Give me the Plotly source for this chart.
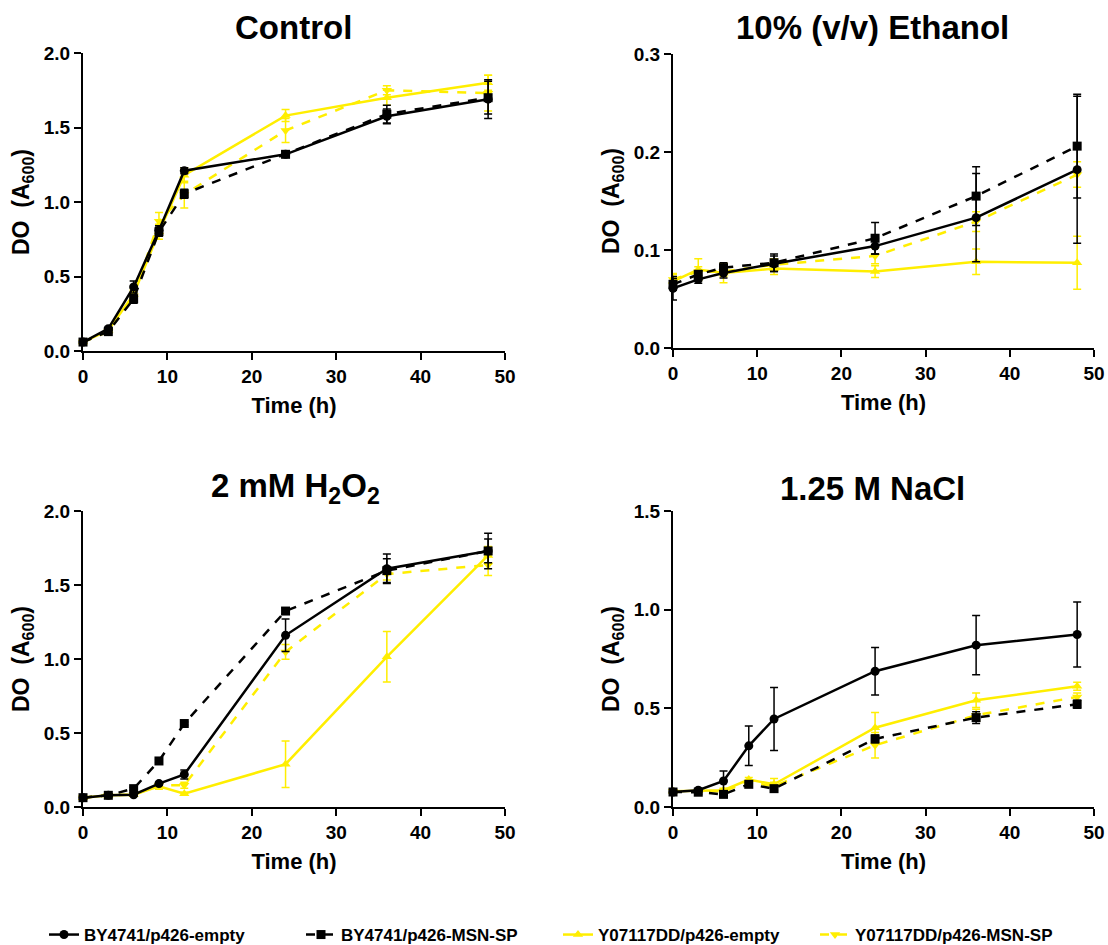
import plotly.graph_objects as go

time_h = [0, 3, 6, 9, 12, 24, 36, 48]
eth_time = [0, 3, 6, 12, 24, 36, 48]

series_names = ["BY4741/p426-empty", "BY4741/p426-MSN-SP",
                "Y07117DD/p426-empty", "Y07117DD/p426-MSN-SP"]

# Control
ctrl_by_empty = [0.06, 0.15, 0.43, 0.81, 1.21, 1.32, 1.575, 1.69]
ctrl_by_msn = [0.06, 0.13, 0.35, 0.80, 1.055, 1.32, 1.59, 1.70]
ctrl_y_empty = [0.06, 0.14, 0.38, 0.80, 1.18, 1.58, 1.70, 1.80]
ctrl_y_msn = [0.06, 0.13, 0.37, 0.87, 1.05, 1.48, 1.75, 1.73]
ctrl_by_empty_err = [0.01, 0.01, 0.04, 0.03, 0.02, 0.02, 0.05, 0.13]
ctrl_by_msn_err = [0.01, 0.01, 0.03, 0.03, 0.03, 0.02, 0.06, 0.11]
ctrl_y_empty_err = [0.01, 0.01, 0.03, 0.05, 0.05, 0.04, 0.05, 0.05]
ctrl_y_msn_err = [0.01, 0.01, 0.03, 0.06, 0.09, 0.08, 0.03, 0.12]

# 10% Ethanol
eth_by_empty = [0.061, 0.070, 0.0765, 0.086, 0.104, 0.133, 0.182]
eth_by_msn = [0.065, 0.075, 0.082, 0.087, 0.112, 0.155, 0.206]
eth_y_empty = [0.068, 0.080, 0.0765, 0.081, 0.078, 0.088, 0.087]
eth_y_msn = [0.070, 0.078, 0.078, 0.085, 0.094, 0.129, 0.177]
eth_by_empty_err = [0.012, 0.004, 0.005, 0.008, 0.008, 0.045, 0.075]
eth_by_msn_err = [0.006, 0.004, 0.005, 0.009, 0.016, 0.030, 0.053]
eth_y_empty_err = [0.008, 0.011, 0.010, 0.006, 0.006, 0.013, 0.027]
eth_y_msn_err = [0.005, 0.005, 0.005, 0.006, 0.008, 0.010, 0.013]

# 2 mM H2O2
h2o2_by_empty = [0.063, 0.079, 0.083, 0.158, 0.22, 1.16, 1.61, 1.73]
h2o2_by_msn = [0.063, 0.079, 0.124, 0.311, 0.564, 1.324, 1.597, 1.73]
h2o2_y_empty = [0.063, 0.079, 0.083, 0.14, 0.09, 0.289, 1.015, 1.70]
h2o2_y_msn = [0.063, 0.079, 0.083, 0.147, 0.147, 1.048, 1.574, 1.635]
h2o2_by_empty_err = [0.01, 0.01, 0.01, 0.01, 0.03, 0.11, 0.10, 0.08]
h2o2_by_msn_err = [0.01, 0.01, 0.01, 0.01, 0.01, 0.02, 0.08, 0.12]
h2o2_y_empty_err = [0.01, 0.01, 0.01, 0.02, 0.01, 0.157, 0.17, 0.06]
h2o2_y_msn_err = [0.01, 0.01, 0.01, 0.01, 0.02, 0.05, 0.04, 0.07]

# 1.25 M NaCl
nacl_by_empty = [0.076, 0.085, 0.132, 0.31, 0.446, 0.688, 0.82, 0.874]
nacl_by_msn = [0.076, 0.075, 0.064, 0.115, 0.093, 0.345, 0.453, 0.521]
nacl_y_empty = [0.080, 0.083, 0.085, 0.139, 0.115, 0.402, 0.541, 0.612]
nacl_y_msn = [0.080, 0.080, 0.080, 0.127, 0.105, 0.313, 0.465, 0.558]
nacl_by_empty_err = [0.01, 0.01, 0.05, 0.10, 0.16, 0.12, 0.15, 0.165]
nacl_by_msn_err = [0.01, 0.01, 0.01, 0.01, 0.01, 0.02, 0.03, 0.02]
nacl_y_empty_err = [0.01, 0.01, 0.01, 0.01, 0.03, 0.077, 0.037, 0.02]
nacl_y_msn_err = [0.01, 0.01, 0.01, 0.01, 0.02, 0.065, 0.03, 0.02]

panel_titles = ["Control", "10% (v/v) Ethanol",
                "2 mM H<sub>2</sub>O<sub>2</sub>", "1.25 M NaCl"]
y_ranges = [2.0, 0.3, 2.0, 1.5]
y_dticks = [0.5, 0.1, 0.5, 0.5]

BLACK = "#000000"
YELLOW = "#FFEE00"
colors = [BLACK, BLACK, YELLOW, YELLOW]
dashes = ["solid", "dash", "solid", "dash"]
symbols = ["circle", "square", "triangle-up", "triangle-down"]

panels = [
    (time_h, [ctrl_by_empty, ctrl_by_msn, ctrl_y_empty, ctrl_y_msn],
     [ctrl_by_empty_err, ctrl_by_msn_err, ctrl_y_empty_err, ctrl_y_msn_err]),
    (eth_time, [eth_by_empty, eth_by_msn, eth_y_empty, eth_y_msn],
     [eth_by_empty_err, eth_by_msn_err, eth_y_empty_err, eth_y_msn_err]),
    (time_h, [h2o2_by_empty, h2o2_by_msn, h2o2_y_empty, h2o2_y_msn],
     [h2o2_by_empty_err, h2o2_by_msn_err, h2o2_y_empty_err, h2o2_y_msn_err]),
    (time_h, [nacl_by_empty, nacl_by_msn, nacl_y_empty, nacl_y_msn],
     [nacl_by_empty_err, nacl_by_msn_err, nacl_y_empty_err, nacl_y_msn_err]),
]

W, H = 1108, 945
x_doms = [[83 / W, 505 / W], [673 / W, 1094 / W], [83 / W, 505 / W], [673 / W, 1094 / W]]
y_doms = [[1 - 351 / H, 1 - 53 / H], [1 - 348 / H, 1 - 54 / H],
          [1 - 807 / H, 1 - 511 / H], [1 - 807 / H, 1 - 511 / H]]
title_pos = [(293, 27), (872, 27), (295, 488), (872, 488)]

FONT = "Liberation Sans, Arial, sans-serif"

fig = go.Figure()
layout = dict(
    width=W, height=H,
    margin=dict(l=0, r=0, t=0, b=0, autoexpand=False),
    paper_bgcolor="white", plot_bgcolor="white",
    font=dict(family=FONT, color="black"),
    showlegend=True,
)

for p, (tx, vals, errs) in enumerate(panels):
    xa = "x" if p == 0 else f"x{p + 1}"
    ya = "y" if p == 0 else f"y{p + 1}"
    for s in [2, 3, 0, 1]:
        fig.add_trace(go.Scatter(
            x=tx, y=vals[s], xaxis=xa, yaxis=ya,
            mode="lines+markers",
            name=series_names[s],
            legendgroup=series_names[s],
            showlegend=(p == 0),
            legendrank=s + 1,
            line=dict(color=colors[s], width=2.5, dash=dashes[s]),
            marker=dict(symbol=symbols[s], size=9, color=colors[s]),
            error_y=dict(type="data", array=errs[s], color=colors[s],
                         thickness=1.5, width=4),
            cliponaxis=False,
        ))
    axkey_x = "xaxis" if p == 0 else f"xaxis{p + 1}"
    axkey_y = "yaxis" if p == 0 else f"yaxis{p + 1}"
    layout[axkey_x] = dict(
        domain=x_doms[p], anchor=ya, range=[0, 50], dtick=10,
        automargin=False,
        showline=True, linecolor="black", linewidth=2,
        ticks="outside", ticklen=7, tickwidth=1.5, tickcolor="black",
        showgrid=False, zeroline=False,
        tickfont=dict(family=FONT, size=19, color="black", weight="bold"),
        title=dict(text="<b>Time (h)</b>", standoff=12,
                   font=dict(family=FONT, size=22, color="black")),
    )
    layout[axkey_y] = dict(
        domain=y_doms[p], anchor=xa, range=[0, y_ranges[p]], dtick=y_dticks[p],
        tickformat=".1f", automargin=False,
        showline=True, linecolor="black", linewidth=2,
        ticks="outside", ticklen=7, tickwidth=1.5, tickcolor="black",
        showgrid=False, zeroline=False,
        tickfont=dict(family=FONT, size=19, color="black", weight="bold"),
        title=dict(text="<b>DO  (A<sub>600</sub>)</b>", standoff=8,
                   font=dict(family=FONT, size=23, color="black")),
    )

annotations = []
for p in range(4):
    tx_, ty_ = title_pos[p]
    annotations.append(dict(
        text=f"<b>{panel_titles[p]}</b>", x=tx_ / W, y=1 - ty_ / H,
        xref="paper", yref="paper", xanchor="center", yanchor="middle",
        showarrow=False, font=dict(family=FONT, size=33, color="black"),
    ))
layout["annotations"] = annotations
layout["legend"] = dict(
    orientation="h", x=44 / W, y=1 - 935 / H, xanchor="left", yanchor="middle",
    entrywidth=212, entrywidthmode="pixels",
    font=dict(family=FONT, size=17, color="black", weight="bold"),
    traceorder="normal", itemwidth=30,
)
fig.update_layout(**layout)
fig.write_html(
    "out.html",
    config={"displayModeBar": False},
    post_script="document.body.style.margin='0';document.body.style.overflow='hidden';",
)
